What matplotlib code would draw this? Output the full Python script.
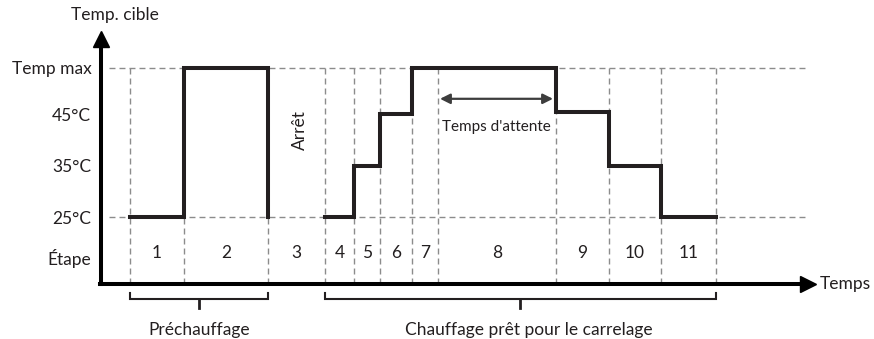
import matplotlib.pyplot as plt

plt.rcParams['font.family'] = ['Lato', 'DejaVu Sans']

# Temperature levels (°C); "Temp max" is drawn a step above 45°C
level_values = [17.3, 25, 35, 45, 54]
level_labels = ['Étape', '25°C', '35°C', '45°C', 'Temp max']

# Stage boundaries along the time axis
stage_edges = [29, 83, 167, 224, 253, 279, 311, 337, 455, 508, 560, 615]
stage_names = ['1', '2', '3', '4', '5', '6', '7', '8', '9', '10', '11']

# Target temperature for each stage (stage 3 = stop, no heating)
preheat_temps = [25, 54]
tiling_temps = [25, 35, 45, 54, 54, 45.5, 35, 25]

# Waiting period marked on stage 8
wait_start, wait_end = 339, 452

ink = '#231f20'
grid_grey = '#8c8c8c'
fs = 12.5

fig = plt.figure(figsize=(8.74, 3.39), dpi=100)
ax = fig.add_axes([0, 0, 1, 1])
ax.set_xlim(-101, 773)
ax.set_ylim(1.30, 67.21)

# axes as arrows
for side in ['top', 'right']:
    ax.spines[side].set_visible(False)
ax.spines['left'].set_position(('data', 0))
ax.spines['bottom'].set_position(('data', 12))
ax.spines['left'].set_bounds(12, 59)
ax.spines['bottom'].set_bounds(-1.5, 704)
for side in ['left', 'bottom']:
    ax.spines[side].set_linewidth(2.9)
    ax.spines[side].set_color('black')
ax.plot([0], [59.6], marker='^', markersize=12, color='black', clip_on=False)
ax.plot([707], [12], marker='>', markersize=11, color='black', clip_on=False)

ax.set_yticks(level_values)
ax.set_yticklabels(level_labels)
ax.set_xticks([])
ax.tick_params(axis='y', length=0, pad=7, labelsize=fs, labelcolor=ink)

# dashed guides
dash = (0, (4.3, 2.9))
ax.hlines([25, 54], 8, 706, colors=grid_grey, linewidth=1.0, linestyles=dash, zorder=1)
ax.vlines(stage_edges, 12, 54, colors=grid_grey, linewidth=1.0, linestyles=dash, zorder=1)

# stage numbers
for i, name in enumerate(stage_names):
    xc = (stage_edges[i] + stage_edges[i + 1]) / 2
    ax.text(xc, 18.0, name, ha='center', va='center', fontsize=fs, color=ink)

# target temperature profile
px = stage_edges[:3] + [stage_edges[2]]
py = preheat_temps + [preheat_temps[-1], 25]
ax.plot(px, py, drawstyle='steps-post', color=ink, linewidth=2.9,
        solid_joinstyle='miter', zorder=3)
tx = stage_edges[3:]
ty = tiling_temps + [tiling_temps[-1]]
ax.plot(tx, ty, drawstyle='steps-post', color=ink, linewidth=2.9,
        solid_joinstyle='miter', zorder=3)

ax.text(199, 42.0, 'Arrêt', rotation=90, ha='center', va='center', fontsize=fs, color=ink)

ax.annotate('', xy=(wait_start, 48), xytext=(wait_end, 48),
            arrowprops=dict(arrowstyle='<|-|>', color='#3d3d3d', lw=1.6,
                            mutation_scale=15, shrinkA=0, shrinkB=0))
ax.text((wait_start + wait_end) / 2, 42.6, "Temps d'attente", ha='center', va='center',
        fontsize=11, color=ink)

# axis titles
ax.text(14, 64.2, 'Temp. cible', ha='center', va='center', fontsize=fs, color=ink)
ax.text(719, 12, 'Temps', ha='left', va='center', fontsize=fs, color=ink)

# brackets under the time axis
def bracket(x0, x1, xm, label, label_x):
    ax.plot([x0, x0, x1, x1], [10.2, 9.0, 9.0, 10.2], color=ink, linewidth=1.5,
            solid_joinstyle='miter', clip_on=False)
    ax.plot([xm, xm], [9.0, 7.4], color=ink, linewidth=2.0)
    ax.text(label_x, 3.0, label, ha='center', va='center', fontsize=fs, color=ink)

bracket(stage_edges[0], stage_edges[2], 98, 'Préchauffage', 98)
bracket(stage_edges[3], stage_edges[-1], 419, 'Chauffage prêt pour le carrelage', 428)

fig.savefig('out.png', dpi=100)
